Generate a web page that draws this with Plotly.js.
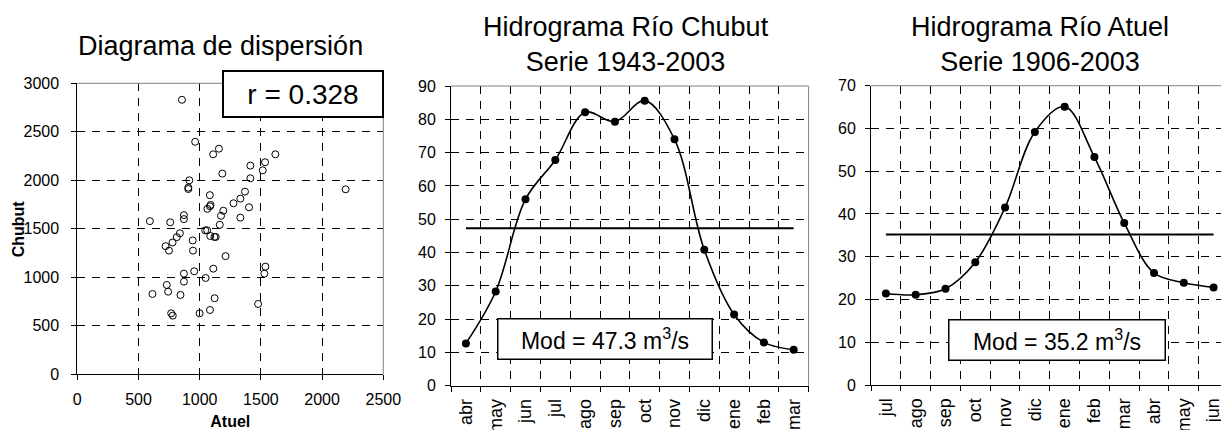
<!DOCTYPE html>
<html>
<head>
<meta charset="utf-8">
<script src="https://cdn.plot.ly/plotly-3.0.1.min.js"></script>
<style>
html, body { margin: 0; padding: 0; overflow: hidden; background: #fff; }
#chart { width: 1230px; height: 430px; }
</style>
</head>
<body>
<div id="chart"></div>
<script>
// ---- Data: scatter (annual flows) ----
var atuelAnnual = [855, 963, 1157, 1110, 1618, 1534, 1414, 1515, 1185, 1414,
  915, 907, 907, 2192, 1083, 1370, 1332, 1276, 1089, 1084,
  1063, 1403, 1193, 871, 871, 1332, 1174, 593, 759, 1164,
  838, 813, 778, 721, 749, 943, 945, 1045, 1061, 1086,
  1120, 1131, 1211, 1537, 1528, 1111, 955, 871, 1048, 871,
  731, 742, 614, 843, 1122, 1477, 1084, 999, 767, 780];
var chubutAnnual = [2830, 2397, 2326, 2268, 2268, 2186, 2151, 2103, 2069, 2021,
  2000, 1925, 1910, 1907, 1847, 1883, 1811, 1763, 1746, 1732,
  1706, 1722, 1686, 1641, 1600, 1615, 1634, 1579, 1567, 1541,
  1454, 1414, 1359, 1321, 1275, 1380, 1275, 1484, 1484, 1426,
  1416, 1416, 1218, 1110, 1038, 1089, 1062, 1038, 993, 955,
  921, 852, 828, 818, 784, 725, 663, 629, 629, 605];
var rValue = '0.328';

// ---- Data: hydrographs ----
var chubutMonths = ['abr','may','jun','jul','ago','sep','oct','nov','dic','ene','feb','mar'];
var chubutFlow   = [12.7, 28.3, 56.0, 67.8, 82.1, 79.3, 85.6, 74.0, 40.8, 21.4, 13.0, 10.8];
var chubutMod = 47.3;

var atuelMonths = ['jul','ago','sep','oct','nov','dic','ene','feb','mar','abr','may','jun'];
var atuelFlow   = [21.4, 21.1, 22.5, 28.7, 41.5, 59.2, 65.1, 53.3, 37.9, 26.2, 23.9, 22.8];
var atuelMod = 35.2;

// ---- Styles ----
var FONT = 'Liberation Sans, Arial, sans-serif';
var W = 1230, H = 430;
function px(a, b) { return [a / W, b / W]; }
function py(top, bottom) { return [(H - bottom) / H, (H - top) / H]; }
var DASH = '8px,7px';
var GRID = '#000000';
var FRAME = '#808080';

var traces = [
  {
    type: 'scatter', mode: 'markers', x: atuelAnnual, y: chubutAnnual,
    xaxis: 'x', yaxis: 'y',
    marker: { symbol: 'circle-open', size: 7, color: '#000', line: { width: 1, color: '#000' } },
    hoverinfo: 'x+y'
  },
  {
    type: 'scatter', mode: 'lines+markers', x: chubutMonths, y: chubutFlow,
    xaxis: 'x2', yaxis: 'y2',
    line: { shape: 'spline', smoothing: 1, color: '#000', width: 1.6 },
    marker: { symbol: 'circle', size: 8, color: '#000' }
  },
  {
    type: 'scatter', mode: 'lines',
    x: [chubutMonths[0], chubutMonths[chubutMonths.length - 1]], y: [chubutMod, chubutMod],
    xaxis: 'x2', yaxis: 'y2', line: { color: '#000', width: 2 }
  },
  {
    type: 'scatter', mode: 'lines+markers', x: atuelMonths, y: atuelFlow,
    xaxis: 'x3', yaxis: 'y3',
    line: { shape: 'spline', smoothing: 1, color: '#000', width: 1.6 },
    marker: { symbol: 'circle', size: 8, color: '#000' }
  },
  {
    type: 'scatter', mode: 'lines',
    x: [atuelMonths[0], atuelMonths[atuelMonths.length - 1]], y: [atuelMod, atuelMod],
    xaxis: 'x3', yaxis: 'y3', line: { color: '#000', width: 2 }
  }
];

var tickFont = { family: FONT, size: 16, color: '#000' };
var monthFont = { family: FONT, size: 18, color: '#000' };

function yAxisCommon(range, dtick, domain, standoff) {
  return {
    domain: domain, range: range, dtick: dtick, tick0: 0,
    showline: true, linecolor: '#000', linewidth: 1,
    ticks: 'outside', ticklen: 5, tickcolor: '#000', tickwidth: 1,
    showgrid: true, gridcolor: GRID, gridwidth: 1, griddash: DASH,
    zeroline: false, tickfont: tickFont, ticklabelstandoff: standoff, fixedrange: true
  };
}
function monthAxis(domain, anchor) {
  return {
    domain: domain, anchor: anchor, type: 'category', range: [-0.5, 11.5],
    tickson: 'boundaries', ticks: 'outside', ticklen: 5, tickcolor: '#000',
    showline: true, linecolor: '#000', linewidth: 1,
    showgrid: true, gridcolor: GRID, gridwidth: 1, griddash: DASH,
    zeroline: false, tickangle: -90, tickfont: monthFont, ticklabelstandoff: 5,
    fixedrange: true
  };
}

var layout = {
  width: W, height: H,
  margin: { l: 0, r: 0, t: 0, b: 0 },
  paper_bgcolor: '#fff', plot_bgcolor: '#fff',
  showlegend: false,
  font: { family: FONT, color: '#000' },
  xaxis: {
    domain: px(77.3, 383.3), anchor: 'y', range: [0, 2500], dtick: 500, tick0: 0,
    showline: true, linecolor: '#000', linewidth: 1,
    ticks: 'outside', ticklen: 5, tickcolor: '#000',
    showgrid: true, gridcolor: GRID, gridwidth: 1, griddash: DASH,
    zeroline: false, tickfont: tickFont, ticklabelstandoff: 5,
    title: { text: '<b>Atuel</b>', font: { family: FONT, size: 16, color: '#000' }, standoff: 14 },
    fixedrange: true
  },
  yaxis: Object.assign(yAxisCommon([0, 3000], 500, py(83.3, 374.3), 9), { anchor: 'x' }),
  xaxis2: monthAxis(px(451, 808.6), 'y2'),
  yaxis2: Object.assign(yAxisCommon([0, 90], 10, py(86, 385.7), 6), { anchor: 'x2' }),
  xaxis3: monthAxis(px(871, 1228.5), 'y3'),
  yaxis3: Object.assign(yAxisCommon([0, 70], 10, py(85.7, 385), 6), { anchor: 'x3' }),
  shapes: [],
  annotations: [
    { text: '<b>Chubut</b>', xref: 'paper', yref: 'y domain',
      x: 18.5 / W, y: 0.5, xanchor: 'center', yanchor: 'middle', textangle: -90,
      showarrow: false, font: { family: FONT, size: 16, color: '#000' } },
    { text: 'Diagrama de dispersión', xref: 'paper', yref: 'paper',
      x: 220 / W, y: (H - 63) / H, xanchor: 'center', yanchor: 'bottom',
      showarrow: false, font: { family: FONT, size: 27, color: '#000' } },
    { text: 'Hidrograma Río Chubut<br>Serie 1943-2003', xref: 'paper', yref: 'paper',
      x: 626 / W, y: (H - 79) / H, xanchor: 'center', yanchor: 'bottom',
      showarrow: false, font: { family: FONT, size: 27, color: '#000' } },
    { text: 'Hidrograma Río Atuel<br>Serie 1906-2003', xref: 'paper', yref: 'paper',
      x: 1040 / W, y: (H - 79) / H, xanchor: 'center', yanchor: 'bottom',
      showarrow: false, font: { family: FONT, size: 27, color: '#000' } },
    { text: 'r = ' + rValue, xref: 'x domain', yref: 'y domain',
      x: 0.736, y: 0.963, xanchor: 'center', yanchor: 'middle', showarrow: false,
      width: 150, height: 36, borderpad: 4, bordercolor: '#000', borderwidth: 2, bgcolor: '#fff',
      font: { family: FONT, size: 28, color: '#000' } },
    { text: 'Mod = ' + chubutMod + ' m<sup>3</sup>/s', xref: 'x2 domain', yref: 'y2 domain',
      x: 0.432, y: 0.156, xanchor: 'center', yanchor: 'middle', showarrow: false,
      width: 205, height: 31, borderpad: 4, bordercolor: '#000', borderwidth: 1.5, bgcolor: '#fff',
      font: { family: FONT, size: 23, color: '#000' } },
    { text: 'Mod = ' + atuelMod + ' m<sup>3</sup>/s', xref: 'x3 domain', yref: 'y3 domain',
      x: 0.519, y: 0.152, xanchor: 'center', yanchor: 'middle', showarrow: false,
      width: 207, height: 31, borderpad: 4, bordercolor: '#000', borderwidth: 1.5, bgcolor: '#fff',
      font: { family: FONT, size: 23, color: '#000' } }
  ]
};

// gray top/right frame of each plot area
[['x', 'y'], ['x2', 'y2'], ['x3', 'y3']].forEach(function (p) {
  layout.shapes.push({ type: 'line', xref: p[0] + ' domain', yref: p[1] + ' domain',
    x0: 0, x1: 1, y0: 1, y1: 1, line: { color: FRAME, width: 1 }, layer: 'above' });
  layout.shapes.push({ type: 'line', xref: p[0] + ' domain', yref: p[1] + ' domain',
    x0: 1, x1: 1, y0: 0, y1: 1, line: { color: FRAME, width: 1 }, layer: 'above' });
});

Plotly.newPlot('chart', traces, layout, { displayModeBar: false, staticPlot: true });
</script>
</body>
</html>
